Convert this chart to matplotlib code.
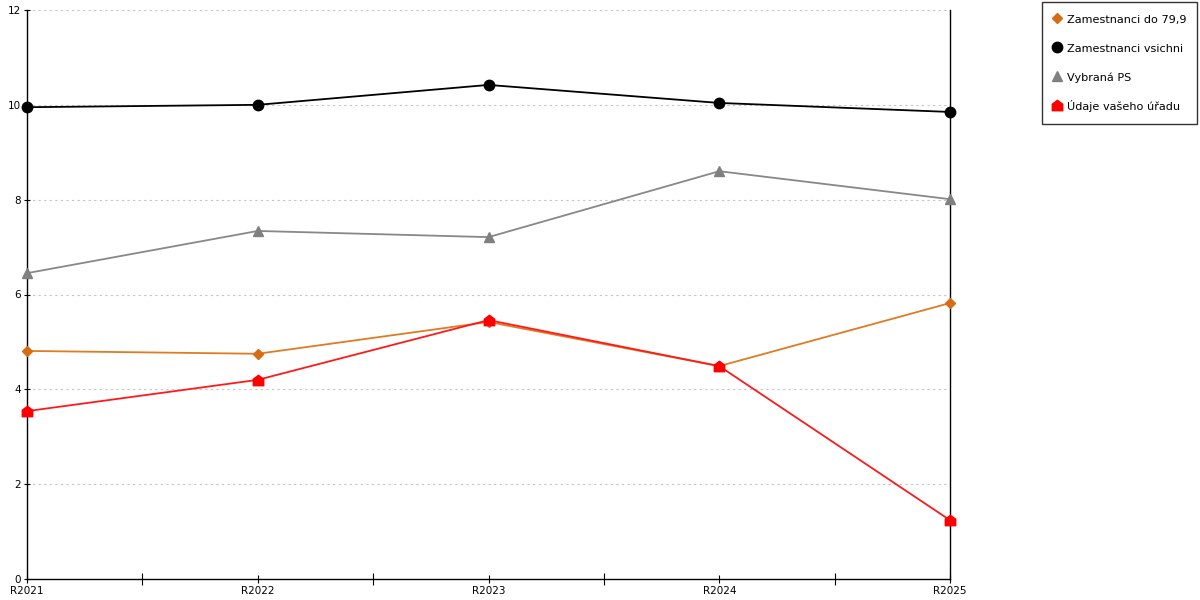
import numpy as np
import matplotlib
matplotlib.use("Agg")
import matplotlib.pyplot as plt
from matplotlib.path import Path

# data
years = ["R2021", "R2022", "R2023", "R2024", "R2025"]
do_79 = [4.81, 4.75, 5.42, 4.49, 5.82]
vsichni = [9.95, 10.0, 10.42, 10.04, 9.85]
vybrana_ps = [6.45, 7.34, 7.21, 8.60, 8.01]
vas_urad = [3.54, 4.20, 5.46, 4.49, 1.24]

labels = ["Zamestnanci do 79,9", "Zamestnanci vsichni", "Vybraná PS", "Údaje vašeho úřadu"]

# house shaped marker
house = Path([(-1, -1), (1, -1), (1, 0.25), (0, 1), (-1, 0.25), (-1, -1)],
             [Path.MOVETO, Path.LINETO, Path.LINETO, Path.LINETO, Path.LINETO, Path.CLOSEPOLY])

plt.rcParams['font.family'] = ['DejaVu Sans']

fig = plt.figure(figsize=(12, 6), dpi=100)
ax = fig.add_axes([27/1200, 21/600, (950-27)/1200, (579-10)/600])

x = np.arange(len(years))
h1, = ax.plot(x, do_79, color='#e07b22', lw=1.3, marker='D', ms=5.5,
              mfc='#d86c14', mec='#d86c14', zorder=3, clip_on=False)
h2, = ax.plot(x, vsichni, color='black', lw=1.3, marker='o', ms=7.5, zorder=3, clip_on=False)
h3, = ax.plot(x, vybrana_ps, color='#888888', lw=1.3, marker='^', ms=7.5,
              mfc='#808080', mec='#808080', zorder=3, clip_on=False)
h4, = ax.plot(x, vas_urad, color='#ff1a1a', lw=1.3, marker=house, ms=7.5,
              mfc='#ff0000', mec='#ff0000', zorder=4, clip_on=False)

ax.set_xlim(0, 4)
ax.set_ylim(0, 12)
ax.set_xticks(x)
ax.set_xticklabels(years)
ax.set_xticks([0.5, 1.5, 2.5, 3.5], minor=True)
ax.set_yticks(range(0, 13, 2))
ax.tick_params(axis='both', labelsize=7.5, direction='inout', length=6, width=0.8, pad=2)
ax.tick_params(axis='x', which='minor', direction='inout', length=8, width=0.8)
ax.tick_params(axis='y', length=5)

for yv in range(2, 13, 2):
    ax.axhline(yv, color='#c4c4c4', lw=0.8, ls=(0, (2, 3)), zorder=1)

ax.spines['top'].set_visible(False)
for s in ['left', 'bottom', 'right']:
    ax.spines[s].set_color('black')
    ax.spines[s].set_linewidth(1.0)

leg = fig.legend([h1, h2, h3, h4], labels, loc='upper right',
                 bbox_to_anchor=(1197/1200, 598/600), fontsize=8.1,
                 frameon=True, fancybox=False, edgecolor='black',
                 handlelength=0.8, handleheight=1.5, handletextpad=0.5,
                 labelspacing=1.35, borderpad=0.95, borderaxespad=0)
leg.get_frame().set_linewidth(1.0)
for line in leg.get_lines():
    line.set_linestyle('none')

fig.savefig("out.png", dpi=100)
